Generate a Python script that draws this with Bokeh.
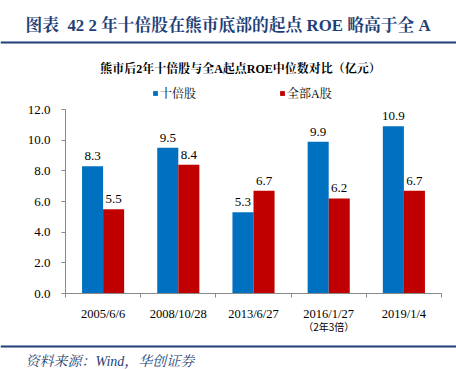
from bokeh.plotting import figure
from bokeh.models import (ColumnDataSource, Range1d, FixedTicker, LinearAxis, Label,
                          LabelSet, Legend, LegendItem, PrintfTickFormatter, Span)
from bokeh.core.properties import value
from bokeh.transform import dodge
from bokeh.embed import file_html
from bokeh.resources import INLINE

# ---------------- data ----------------
categories = ["2005/6/6", "2008/10/28", "2013/6/27", "2016/1/27", "2019/1/4"]
ten_bagger = [8.3, 9.5, 5.3, 9.9, 10.9]
all_a = [5.5, 8.4, 6.7, 6.2, 6.7]
series_names = ["十倍股", "全部A股"]
y_ticks = [0, 2, 4, 6, 8, 10, 12]
title_text = "图表\u00a0\u00a042 2 年十倍股在熊市底部的起点 ROE 略高于全 A"
subtitle_text = "熊市后2年十倍股与全A起点ROE中位数对比（亿元）"
note_text = "（2年3倍）"
note_category = "2016/1/27"
source_text = "资料来源：Wind，华创证券"

# ---------------- style ----------------
BLUE = "#0070C0"
RED = "#C00000"
NAVY = "#1F3F77"
AXIS = "#898989"
SERIF = "'Times New Roman', 'Liberation Serif', 'Noto Serif CJK SC', 'Noto Sans CJK SC'"
SANS = "'Noto Sans CJK SC'"

W, H = 456, 369
# plotting area (in canvas pixels) where the value axes live
FL, FR, FT, FB = 65, 441, 109, 293
N = len(categories)
YMAX = max(y_ticks)
BW = 0.28


def dx(px):
    return (px - FL) / (FR - FL) * N


def dy(py):
    return (FB - py) / (FB - FT) * YMAX


p = figure(width=W, height=H, output_backend="svg", toolbar_location=None,
           x_range=Range1d(dx(0), dx(W)), y_range=Range1d(dy(H), dy(0)),
           x_axis_type=None, y_axis_type=None, min_border=0)
p.outline_line_color = None
p.background_fill_color = "white"
p.border_fill_color = "white"

centers = [i + 0.5 for i in range(N)]
src = ColumnDataSource(dict(
    x=centers, a=ten_bagger, b=all_a,
    ta=[f"{v:.1f}" for v in ten_bagger],
    tb=[f"{v:.1f}" for v in all_a],
))

r1 = p.vbar(x=dodge("x", -BW / 2, range=p.x_range), top="a", width=BW, source=src,
            fill_color=BLUE, line_color=None)
r2 = p.vbar(x=dodge("x", BW / 2, range=p.x_range), top="b", width=BW, source=src,
            fill_color=RED, line_color=None)

for col, txt, off in (("a", "ta", -BW / 2), ("b", "tb", BW / 2)):
    p.add_layout(LabelSet(x=dodge("x", off, range=p.x_range), y=col, text=txt, source=src,
                          text_align="center", text_baseline="bottom", y_offset=6,
                          text_font=value(SERIF), text_font_size=value("13px"),
                          text_color="#000000"))

# y axis
yax = LinearAxis(ticker=FixedTicker(ticks=y_ticks), formatter=PrintfTickFormatter(format="%.1f"),
                 fixed_location=0, bounds=(0, YMAX),
                 axis_line_color=AXIS, major_tick_line_color=AXIS,
                 major_tick_in=0, major_tick_out=4, minor_tick_line_color=None,
                 major_label_standoff=11, major_label_text_font=SERIF,
                 major_label_text_font_size="13px", major_label_text_color="#000000")
p.add_layout(yax, "left")

# x axis: labels at category centers, ticks at category boundaries
xax = LinearAxis(ticker=FixedTicker(ticks=centers, minor_ticks=list(range(N + 1))),
                 major_label_overrides={c: lab for c, lab in zip(centers, categories)},
                 fixed_location=0, bounds=(0, N),
                 axis_line_color=AXIS, major_tick_line_color=None,
                 major_tick_in=0, major_tick_out=0,
                 minor_tick_line_color=AXIS, minor_tick_in=0, minor_tick_out=4,
                 major_label_standoff=9, major_label_text_font=SERIF,
                 major_label_text_font_size="12.5px", major_label_text_color="#000000")
p.add_layout(xax, "below")

# legends
for r, name, lx in ((r1, series_names[0], 152), (r2, series_names[1], 279)):
    leg = Legend(items=[LegendItem(label=name, renderers=[r])], location=(lx, H - 95 - 7),
                 orientation="horizontal", padding=0, margin=0, border_line_color=None,
                 background_fill_alpha=0, glyph_width=6, glyph_height=6, label_standoff=2,
                 label_height=14, label_text_font=SERIF, label_text_font_size="12px",
                 label_text_color="#000000")
    p.add_layout(leg, "center")

# decorative rules under the title and above the source line
for ry in (42, 346):
    p.add_layout(Span(location=dy(ry), dimension="width", line_color=NAVY, line_width=2))

# title, subtitle, note, source
p.add_layout(Label(x=dx(25), y=dy(25), text=title_text, text_align="left",
                   text_baseline="middle", text_font=SERIF, text_font_size="16.8px",
                   text_font_style="bold", text_color=NAVY))
p.add_layout(Label(x=dx(240), y=dy(68), text=subtitle_text, text_align="center",
                   text_baseline="middle", text_font=SERIF, text_font_size="12px",
                   text_font_style="bold", text_color="#000000"))
ni = categories.index(note_category)
p.add_layout(Label(x=centers[ni], y=dy(326), text=note_text, text_align="center",
                   text_baseline="middle", text_font=SANS, text_font_size="10px",
                   text_color="#000000"))
p.add_layout(Label(x=dx(25), y=dy(361), text=source_text, text_align="left",
                   text_baseline="middle", text_font=SERIF, text_font_size="14px",
                   text_font_style="italic", text_color=NAVY))

open("out.html", "w").write(file_html(p, INLINE))
